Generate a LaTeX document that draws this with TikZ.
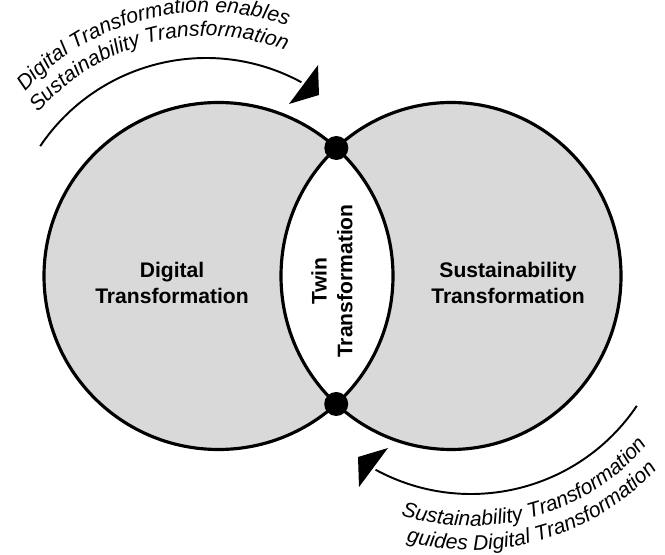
\documentclass[tikz,border=0pt]{standalone}
\usepackage{fontspec}
\setmainfont{Liberation Sans}
\usetikzlibrary{decorations.text,intersections}

\definecolor{ringgray}{RGB}{217,217,217}
\newcommand\arcfont{\fontsize{12}{14}\selectfont\itshape}

\tikzset{
  ring/.style={line width=1.8pt},
  flow/.style={line width=1.1pt},
  ringtext/.style={font=\fontsize{12}{14.7}\selectfont\bfseries, align=center, inner sep=0pt},
  curvetext/.style={decorate, decoration={text along path, text align=center, text={#1}}}
}

\begin{document}
\begin{tikzpicture}[x=0.02cm, y=0.02cm]
  \useasboundingbox (0,0) rectangle (665,554);

  % centres of the two rings
  \coordinate (dt) at (218.5,278);
  \coordinate (st) at (451,278);

  % grey discs with a white overlap
  \fill[ringgray] (dt) ellipse [x radius=174.5, y radius=173.5];
  \fill[ringgray] (st) ellipse [x radius=170, y radius=173.5];
  \begin{scope}
    \clip (dt) ellipse [x radius=174.5, y radius=173.5];
    \fill[white] (st) ellipse [x radius=170, y radius=173.5];
  \end{scope}
  \draw[ring, name path=dtring] (dt) ellipse [x radius=174.5, y radius=173.5];
  \draw[ring, name path=string] (st) ellipse [x radius=170, y radius=173.5];

  % black joints where the rings cross
  \path[name intersections={of=dtring and string, by={j1,j2}}];
  \fill (j1) circle (12);
  \fill (j2) circle (12);

  % ring labels
  \node[ringtext] (dtl) at (172,271) {Digital\\Transformation};
  \node[ringtext] (stl) at (508,271) {Sustainability\\Transformation};
  \node[ringtext, rotate=90] (twl) at (332,273) {Twin\\Transformation};

  % upper curved arrow
  \coordinate (ea) at (206,296);
  \draw[flow] (ea) ++(146:200) arc[start angle=146, end angle=61.5, radius=200];
  \fill (318,489) -- (319,459) -- (289,450) -- cycle;
  \path[curvetext={|\arcfont|Digital Transformation enables}]
    (ea) ++(159:246) arc[start angle=159, end angle=49, radius=246];
  \path[curvetext={|\arcfont|Sustainability Transformation}]
    (ea) ++(159:222) arc[start angle=159, end angle=49, radius=222];

  % lower curved arrow
  \coordinate (eb) at (471,260);
  \draw[flow] (eb) ++(326:200) arc[start angle=326, end angle=241.5, radius=200];
  \fill (359,67) -- (358,97) -- (388,106) -- cycle;
  \path[curvetext={|\arcfont|Sustainability Transformation}]
    (eb) ++(231:232) arc[start angle=231, end angle=341, radius=232];
  \path[curvetext={|\arcfont|guides Digital Transformation}]
    (eb) ++(231:256) arc[start angle=231, end angle=341, radius=256];
\end{tikzpicture}
\end{document}
